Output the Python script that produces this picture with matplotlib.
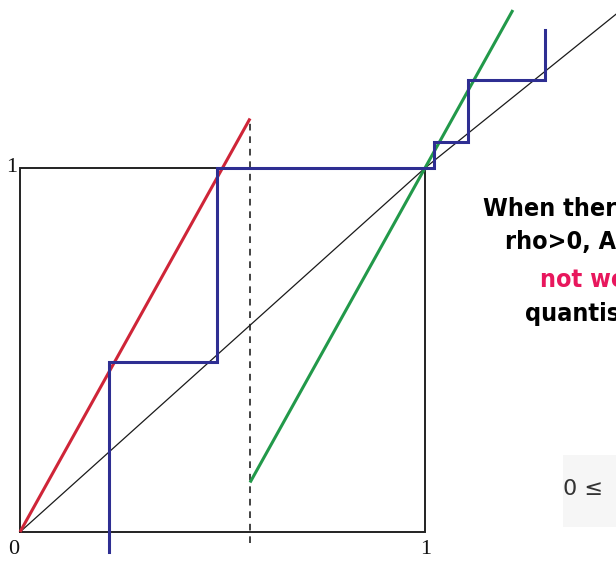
import matplotlib
matplotlib.use("Agg")
import matplotlib.pyplot as plt
from matplotlib.patches import Rectangle
import numpy as np

# Piecewise-linear map: two branches of slope 2 split at the discontinuity
split = 0.568
slope = 2.0
left_x = [0.0, split]
right_x = [split, 1.217]

# Reference line (drawn y = x inside the box, flattening slightly beyond it)
diag_x = [0.0, 1.0, 1.48]
diag_y = [0.0, 1.0, 1.43]

# Cobweb orbit: alternating x positions and heights of the staircase
orbit_x = [0.220, 0.486, 1.022, 1.106, 1.296]
orbit_y = [-0.055, 0.467, 1.000, 1.071, 1.242, 1.380]

tick_labels = {"x0": "0", "x1": "1", "y1": "1"}
note_lines = ["When ther", "rho>0, A", "not wo", "quantis"]
note_colors = ["black", "black", "#e8175d", "black"]

W, H = 616, 562
fig = plt.figure(figsize=(W / 100, H / 100), dpi=100)
ax = fig.add_axes([0, 0, 1, 1])
# unit box occupies x 20..425 px, y 532..168 px
ux, uy = 405.0, 364.0
ax.set_xlim(-20 / ux, (W - 20) / ux)
ax.set_ylim(-(H - 532) / uy, 532 / uy)
ax.axis("off")

# unit square
ax.plot([0, 1, 1, 0, 0], [0, 0, 1, 1, 0], color="#222222", lw=1.4,
        solid_joinstyle="miter", zorder=2)

# reference line
ax.plot(diag_x, diag_y, color="#1a1a1a", lw=0.9, zorder=3)

# map branches
lx = np.array(left_x)
rx = np.array(right_x)
ax.plot(lx, slope * lx, color="#cf2538", lw=2.2, solid_capstyle="butt", zorder=4)
ax.plot(rx, slope * rx - 1, color="#22994a", lw=2.2, solid_capstyle="butt", zorder=4)

# discontinuity marker
ax.plot([split, split], [-0.03, slope * split], color="#222222", lw=1.2,
        ls=(0, (4, 3.5)), zorder=3)

# staircase
sx, sy = [orbit_x[0]], [orbit_y[0]]
for i, xv in enumerate(orbit_x):
    sx += [xv]
    sy += [orbit_y[i + 1]]
    if i + 1 < len(orbit_x):
        sx += [orbit_x[i + 1]]
        sy += [orbit_y[i + 1]]
ax.plot(sx, sy, color="#2e2e92", lw=2.2, solid_joinstyle="miter", zorder=5)

# axis labels
serif = dict(family=["Liberation Serif", "DejaVu Serif"], fontsize=16, color="#111111")
ax.text(-6 / ux, -17 / uy, tick_labels["x0"], ha="center", va="center", **serif)
ax.text(1 + 1 / ux, -17 / uy, tick_labels["x1"], ha="center", va="center", **serif)
ax.text(-8 / ux, 1.0, tick_labels["y1"], ha="center", va="center", **serif)

# side note
starts = [483, 505, 540, 525]
rows = [209, 242, 280, 314]
for txt, c, x0, y0 in zip(note_lines, note_colors, starts, rows):
    fig.text(x0 / W, 1 - y0 / H, txt, ha="left", va="center", color=c,
             fontsize=18, fontweight="bold", fontstretch="condensed",
             family=["DejaVu Sans", "Liberation Sans"])

# inequality fragment in a pale panel
fig.patches.append(Rectangle((563 / W, 1 - 527 / H), 60 / W, 72 / H,
                             transform=fig.transFigure, facecolor="#f6f6f6",
                             edgecolor="none", zorder=0))
fig.text(563 / W, 1 - 489 / H, "0 \u2264", ha="left", va="center",
         color="#333333", fontsize=16, family=["DejaVu Sans"])

fig.savefig("out.png", dpi=100)
